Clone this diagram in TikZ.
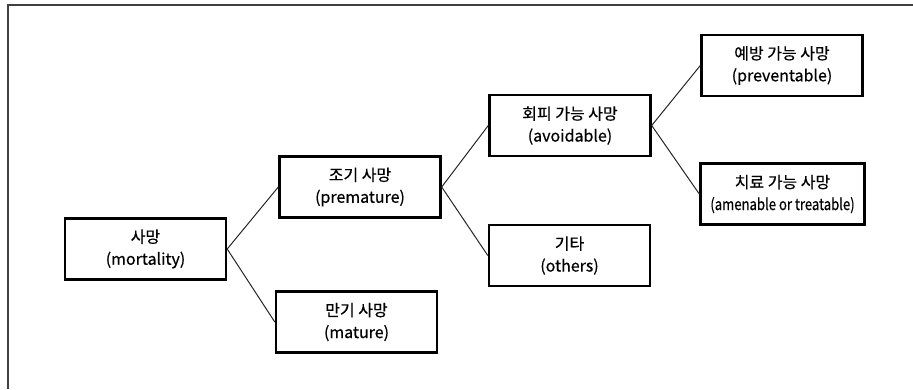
\documentclass[tikz,border=0pt]{standalone}
\usepackage{fontspec}
\setmainfont[FakeBold=0.6]{Noto Sans CJK KR}
\begin{document}
\begin{tikzpicture}[x=1pt,y=-1pt,
  box/.style={draw=black,line width=2.4pt,minimum width=#1,minimum height=61pt,
    align=center,inner sep=0pt,font=\fontsize{16}{22}\selectfont},
  box/.default=161pt,
  link/.style={draw=black!85,line width=1pt}]
\useasboundingbox (0,0) rectangle (913,389);
% frame edges
\draw[black!75,line width=1.6pt] (8,389) -- (8,5) -- (913,5);
% boxes
\node[box] (mort)  at (145.5,249) {사망\\(mortality)};
\node[box] (prem)  at (360,187)   {조기 사망\\(premature)};
\node[box] (matu)  at (356.5,322) {만기 사망\\(mature)};
\node[box] (avoid) at (570,125.5) {회피 가능 사망\\(avoidable)};
\node[box] (oth)   at (569.5,255.5) {기타\\(others)};
\node[box] (prev)  at (782,65.5)  {예방 가능 사망\\(preventable)};
\node[box=164pt] (treat) at (782.5,194) {치료 가능 사망\\\scalebox{0.82}[1]{(amenable or treatable)}};
% links
\draw[link] (mort.east) -- (prem.west);
\draw[link] (mort.east) -- (matu.west);
\draw[link] (prem.east) -- (avoid.west);
\draw[link] (prem.east) -- (oth.west);
\draw[link] (avoid.east) -- (prev.west);
\draw[link] (avoid.east) -- (treat.west);
\end{tikzpicture}
\end{document}
